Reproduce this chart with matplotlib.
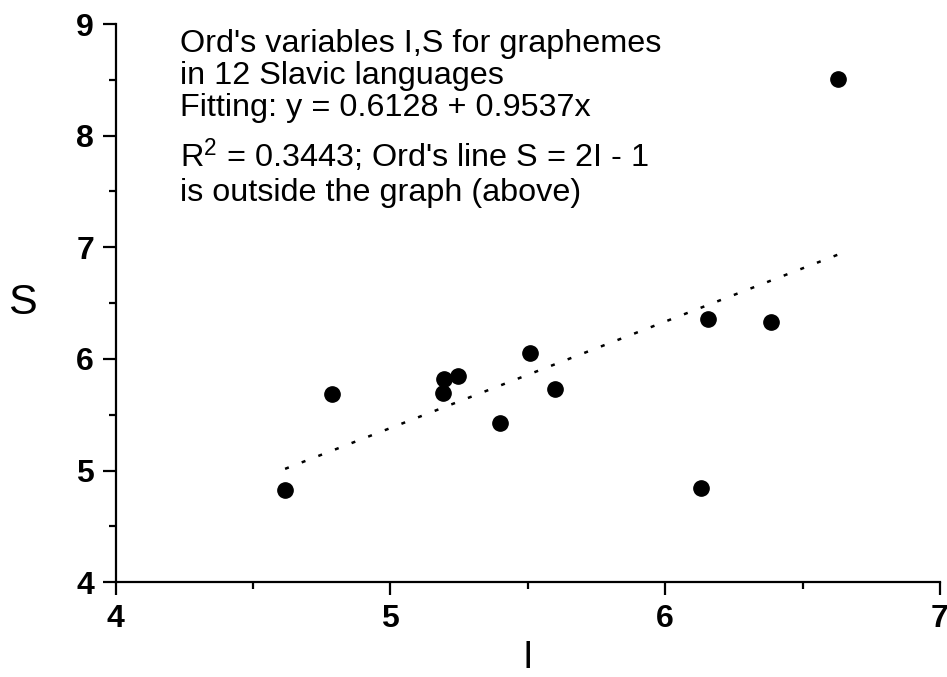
import matplotlib
matplotlib.use("Agg")
import matplotlib.pyplot as plt
import numpy as np

plt.rcParams['font.family'] = ['Liberation Sans', 'DejaVu Sans']
plt.rcParams['mathtext.fontset'] = 'custom'
plt.rcParams['mathtext.rm'] = 'Liberation Sans'
plt.rcParams['mathtext.it'] = 'Liberation Sans'

# Data (Ord's variables I, S)
I_vals = [4.617, 4.789, 5.191, 5.197, 5.247, 5.398, 5.508, 5.599, 6.132, 6.156, 6.386, 6.629]
S_vals = [4.827, 5.687, 5.694, 5.819, 5.849, 5.425, 6.052, 5.729, 4.842, 6.359, 6.332, 8.507]
fit_intercept = 0.6128
fit_slope = 0.9537

x_ticks = [4, 5, 6, 7]
y_ticks = [4, 5, 6, 7, 8, 9]

W, H = 947, 677
fig = plt.figure(figsize=(W / 100, H / 100), dpi=100)
ax = fig.add_axes([115.5 / W, 1 - 582.3 / H, (940 - 115.5) / W, (582.3 - 24) / H])

ax.plot(I_vals, S_vals, 'o', color='black', ms=11, mec='black', zorder=3)
xf = np.array([min(I_vals), max(I_vals)])
ax.plot(xf, fit_intercept + fit_slope * xf, color='black', lw=1.8,
        linestyle=(0, (1.6, 5.53)), dash_capstyle='butt')

ax.set_xlim(4, 7)
ax.set_ylim(4, 9)
ax.set_xticks(x_ticks)
ax.set_yticks(y_ticks)
ax.set_xticks([4.5, 5.5, 6.5], minor=True)
ax.set_yticks([4.5, 5.5, 6.5, 7.5, 8.5], minor=True)
for s in ['top', 'right']:
    ax.spines[s].set_visible(False)
for s in ['left', 'bottom']:
    ax.spines[s].set_linewidth(1.6)
ax.tick_params(which='major', direction='out', length=9.5, width=1.6, pad=6)
ax.tick_params(which='minor', direction='out', length=5, width=1.6)
for lab in ax.get_xticklabels() + ax.get_yticklabels():
    lab.set_fontsize(23)
    lab.set_fontweight('bold')

# Axis labels
fig.text(22.5 / W, 1 - 302.7 / H, 'S', fontsize=31, ha='center', va='center')
fig.text(528 / W, 1 - 676 / H, 'I', fontsize=27, ha='center', va='bottom')

# Annotation
lines = [
    ("Ord's variables I,S for graphemes", 52),
    ("in 12 Slavic languages", 84),
    ("Fitting: y = 0.6128 + 0.9537x", 116),
    ("R$^{2}$ = 0.3443; Ord's line S = 2I - 1", 167),
    ("is outside the graph (above)", 201),
]
for txt, yb in lines:
    fig.text(180 / W, 1 - yb / H, txt, fontsize=23.3, ha='left', va='baseline')

fig.savefig('out.png', dpi=100)
